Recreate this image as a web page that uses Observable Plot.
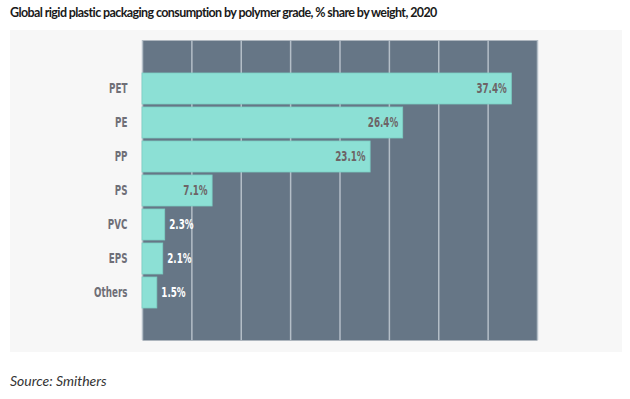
<!DOCTYPE html>
<html>
<head>
<meta charset="utf-8">
<script src="https://cdn.jsdelivr.net/npm/d3@7"></script>
<script src="https://cdn.jsdelivr.net/npm/@observablehq/plot@0.6"></script>
<style>
  html, body { margin: 0; padding: 0; background: #ffffff; }
  body { width: 630px; height: 399px; position: relative; overflow: hidden; }
  #title { position: absolute; left: 10px; top: 5px; font-family: Lato, "Open Sans", sans-serif; font-weight: 700; font-size: 12.5px; letter-spacing: -0.6px; color: #1a1a1a; white-space: nowrap; }
  #panel { position: absolute; left: 10px; top: 30px; width: 612px; height: 322px; background: #f7f7f7; }
  #panel svg { display: block; }
  #source { position: absolute; left: 10px; top: 372px; font-family: Lato, "Open Sans", sans-serif; font-style: italic; font-size: 14px; color: #333; }
</style>
</head>
<body>
<div id="title">Global rigid plastic packaging consumption by polymer grade, % share by weight, 2020</div>
<div id="panel"></div>
<div id="source">Source: Smithers</div>
<script>
const grades = ["PET", "PE", "PP", "PS", "PVC", "EPS", "Others"];
const shares = [37.4, 26.4, 23.1, 7.1, 2.3, 2.1, 1.5];
const xTicks = [0, 5, 10, 15, 20, 25, 30, 35, 40];

const data = grades.map((g, i) => ({grade: g, share: shares[i], label: shares[i].toFixed(1) + "%"}));
const inside = data.filter(d => d.share > 5);
const outside = data.filter(d => d.share <= 5);

const font = '"DejaVu Sans", sans-serif';

const chart = Plot.plot({
  width: 612,
  height: 322,
  marginLeft: 132,
  marginRight: 85,
  marginTop: 10,
  marginBottom: 12,
  style: {background: "transparent", overflow: "visible"},
  x: {domain: [0, 40], ticks: xTicks, axis: null},
  y: {domain: grades, padding: 0.1, insetTop: 29, insetBottom: 28, label: null},
  marks: [
    Plot.frame({fill: "#667686", stroke: null}),
    Plot.gridX(xTicks, {stroke: "#b4bec7", strokeOpacity: 1, strokeWidth: 1.5}),
    Plot.barX(data, {x: "share", y: "grade", fill: "#8ce0d5", stroke: "#7ccfc4", strokeWidth: 0.8}),
    Plot.text(inside, {x: "share", y: "grade", text: "label", textAnchor: "end", dx: -5, fill: "#6d6466",
      fontFamily: font, fontWeight: 700, fontSize: 13.5}),
    Plot.text(outside, {x: "share", y: "grade", text: "label", textAnchor: "start", dx: 4, fill: "#ffffff",
      fontFamily: font, fontWeight: 700, fontSize: 13.5}),
    Plot.axisY({tickSize: 0, tickPadding: 15, fill: "#6f6f77", fontFamily: font, fontWeight: 700, fontSize: 13.5, label: null})
  ]
});
// condense all chart texts horizontally around their anchor point
d3.select(chart).selectAll("text").each(function() {
  const t = d3.select(this);
  const ax = +(t.attr("x") || 0);
  const prev = t.attr("transform") || "";
  t.attr("transform", `${prev} translate(${ax},0) scale(0.65,1) translate(${-ax},0)`.trim());
});
document.getElementById("panel").appendChild(chart);
</script>
</body>
</html>
